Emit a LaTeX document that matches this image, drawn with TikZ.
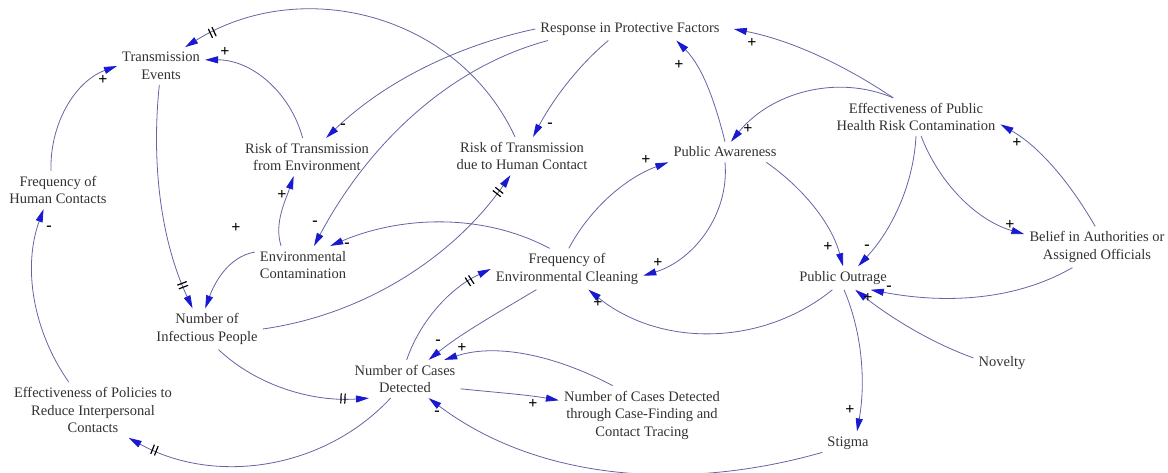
\documentclass[tikz,border=0pt]{standalone}
\usepackage{fontspec}
\setmainfont{Liberation Serif}
\newfontfamily\cldfont{Liberation Serif}
\usetikzlibrary{arrows.meta,decorations.markings}

\definecolor{linkcol}{RGB}{100,100,165}
\definecolor{tipcol}{RGB}{25,25,210}
\definecolor{varcol}{RGB}{50,50,50}

\tikzset{
  var/.style={font=\cldfont\fontsize{14.5}{17.5}\selectfont, text=varcol, align=center, inner sep=5pt},
  link/.style={draw=linkcol, line width=0.8pt, -{Triangle[length=13pt,width=7pt,color=tipcol]}},
  sign/.style={font=\cldfont\fontsize{16}{16}\selectfont\bfseries, inner sep=0pt},
  lagmark/.style={postaction={decorate, decoration={markings,
      mark=at position #1 with {\draw[-,black,line width=1.2pt] (-2pt,-5pt) -- (-2pt,5pt) (2pt,-5pt) -- (2pt,5pt);}}}}
}

\begin{document}
\begin{tikzpicture}[x=1pt,y=1pt]
\useasboundingbox (0,0) rectangle (1168,-473);

%% variables
\node[var] (te)   at (161,-66)  {Transmission\\Events};
\node[var] (rfe)  at (307,-157) {Risk of Transmission\\from Environment};
\node[var] (fhc)  at (58,-190)  {Frequency of\\Human Contacts};
\node[var] (rpf)  at (630,-29)  {Response in Protective Factors};
\node[var] (rhc)  at (522,-156) {Risk of Transmission\\due to Human Contact};
\node[var] (pa)   at (725,-152) {Public Awareness};
\node[var] (ephr) at (916,-117) {Effectiveness of Public\\Health Risk Contamination};
\node[var] (bao)  at (1097,-247) {Belief in Authorities or\\Assigned Officials};
\node[var] (po)   at (843,-278) {Public Outrage};
\node[var] (fec)  at (567,-269) {Frequency of\\Environmental Cleaning};
\node[var] (ec)   at (303,-265) {Environmental\\Contamination};
\node[var] (nip)  at (207,-329) {Number of\\Infectious People};
\node[var] (ncd)  at (405,-379) {Number of Cases\\Detected};
\node[var] (ncf)  at (642,-415) {Number of Cases Detected\\through Case-Finding and\\Contact Tracing};
\node[var] (epr)  at (93,-410)  {Effectiveness of Policies to\\Reduce Interpersonal\\Contacts};
\node[var] (nov)  at (1002,-363) {Novelty};
\node[var] (stg)  at (848,-443) {Stigma};

%% links
\draw[link,lagmark=0.92] (rhc.110) to[out=115,in=32,looseness=1.02] (te.38);   %% rhc-te
\draw[link] (rfe.103) to[out=105,in=0,looseness=0.96] (te.8);                 %% rfe-te
\draw[link] (fhc.110) to[out=92,in=200,looseness=0.94] (te.west);             %% fhc-te
\draw[link] (rpf.west) to[out=192,in=44,looseness=0.87] (rfe.45);             %% rpf-rfe
\draw[link] (rpf.188) to[out=195,in=62,looseness=0.89] (ec.60);               %% rpf-ec
\draw[link] (rpf.208) to[out=220,in=62,looseness=0.86] (rhc.60);              %% rpf-rhc
\draw[link] (pa.north) to[out=104,in=-45,looseness=0.87] (rpf.346);           %% pa-rpf
\draw[link] (ephr.140) to[out=146,in=-11,looseness=0.86] ([xshift=9pt]rpf.east); %% ephr-rpf
\draw[link] (ephr.140) to[out=157,in=51,looseness=0.95] (pa.60);              %% ephr-pa
\draw[link] (pa.346) to[out=325,in=105,looseness=0.88] (po.north);            %% pa-po
\draw[link] (ephr.south) to[out=267,in=47,looseness=0.88] (po.38);            %% ephr-po
\draw[link] (ephr.285) to[out=291,in=164,looseness=0.9] (bao.170);            %% ephr-bao
\draw[link] (bao.95) to[out=120,in=330,looseness=0.87] (ephr.355);            %% bao-ephr
\draw[link] (bao.220) to[out=210,in=349,looseness=0.88] (po.337);             %% bao-po
\draw[link] (nov.170) to[out=160,in=322,looseness=0.86] (po.316);             %% nov-po
\draw[link] (po.275) to[out=293,in=80,looseness=0.87] (stg.52);               %% po-stg
\draw[link] (stg.200) to[out=196,in=323,looseness=0.9] (ncd.321);             %% stg-ncd
\draw[link] (po.228) to[out=219,in=321,looseness=0.96] (fec.316);             %% po-fec
\draw[link] (pa.south) to[out=275,in=17,looseness=0.96] (fec.355);            %% pa-fec
\draw[link] (fec.85) to[out=62,in=200,looseness=0.88] (pa.south west);        %% fec-pa
\draw[link] (fec.130) to[out=152,in=23,looseness=0.89] (ec.35);               %% fec-ec
\draw[link] (ec.139) to[out=108,in=252,looseness=0.87] (rfe.235);             %% ec-rfe
\draw[link] (ec.165) to[out=190,in=70,looseness=0.92] (nip.95);               %% ec-nip
\draw[link,lagmark=0.89] (te.265) to[out=264,in=115,looseness=0.87] (nip.125); %% te-nip
\draw[link,lagmark=0.93] (nip.east) to[out=8,in=235,looseness=0.89] (rhc.239); %% nip-rhc
\draw[link,lagmark=0.84] (nip.299) to[out=317,in=184,looseness=0.89] (ncd.208); %% nip-ncd
\draw[link,lagmark=0.9] (ncd.233) to[out=227,in=331,looseness=0.95] (epr.322); %% ncd-epr
\draw[link] (epr.131) to[out=125,in=250,looseness=0.91] (fhc.233);            %% epr-fhc
\draw[link,lagmark=0.81] (ncd.85) to[out=71,in=205,looseness=0.89] (fec.west); %% ncd-fec
\draw[link] (fec.214) to[out=211,in=39,looseness=0.85] (ncd.39);              %% fec-ncd
\draw[link] (ncf.135) to[out=152,in=18,looseness=0.88] (ncd.26);              %% ncf-ncd
\draw[link] (ncd.350) to[out=354,in=170,looseness=0.85] (ncf.170);            %% ncd-ncf

%% polarities
\node[sign] (s1)  at (225,-52)  {+};
\node[sign] (s2)  at (103,-80)  {+};
\node[sign] (s3)  at (343,-126) {-};
\node[sign] (s4)  at (315,-223) {-};
\node[sign] (s5)  at (550,-125) {-};
\node[sign] (s6)  at (679,-65)  {+};
\node[sign] (s7)  at (752,-43)  {+};
\node[sign] (s8)  at (748,-129) {+};
\node[sign] (s9)  at (828,-247) {+};
\node[sign] (s10) at (867,-247) {-};
\node[sign] (s11) at (1010,-225) {+};
\node[sign] (s12) at (1017,-143) {+};
\node[sign] (s13) at (889,-288) {-};
\node[sign] (s14) at (868,-298) {+};
\node[sign] (s15) at (850,-410) {+};
\node[sign] (s16) at (437,-413) {-};
\node[sign] (s17) at (598,-303) {+};
\node[sign] (s18) at (658,-263) {+};
\node[sign] (s19) at (646,-160) {+};
\node[sign] (s20) at (347,-245) {-};
\node[sign] (s21) at (282,-195) {+};
\node[sign] (s22) at (49,-228)  {-};
\node[sign] (s23) at (438,-342) {-};
\node[sign] (s24) at (462,-348) {+};
\node[sign] (s25) at (533,-404) {+};
\node[sign] (s26) at (236,-228) {+};

\end{tikzpicture}
\end{document}
